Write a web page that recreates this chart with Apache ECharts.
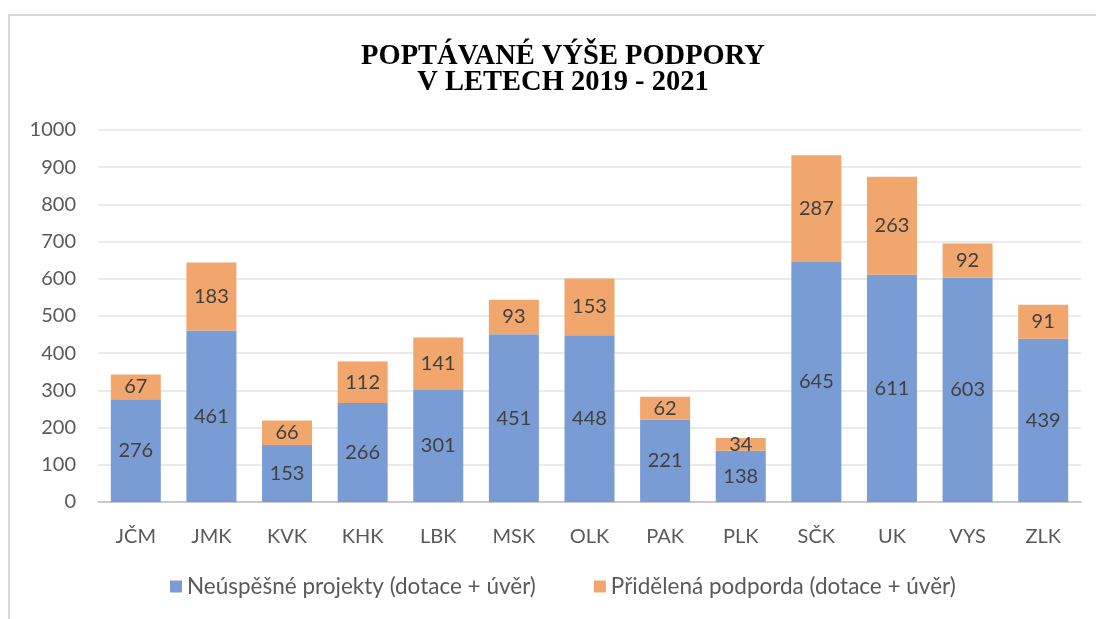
<!DOCTYPE html>
<html><head><meta charset="utf-8">
<script src="https://cdn.jsdelivr.net/npm/echarts@6/dist/echarts.min.js"></script>
<style>html,body{margin:0;padding:0;background:#fff}#c{width:1096px;height:619px}</style>
</head><body><div id="c"></div>
<script>
const categories = ['JČM','JMK','KVK','KHK','LBK','MSK','OLK','PAK','PLK','SČK','UK','VYS','ZLK'];
const neuspesne = [276,461,153,266,301,451,448,221,138,645,611,603,439];
const pridelena = [67,183,66,112,141,93,153,62,34,287,263,92,91];
const seriesNames = ['Neúspěšné projekty (dotace + úvěr)','Přidělená podporda (dotace + úvěr)'];
const yTicks = {min:0, max:1000, interval:100};

const FONT = 'Lato, sans-serif';
const chart = echarts.init(document.getElementById('c'));
const lbl = {show:true, position:'inside', color:'#404040', fontSize:20, fontFamily:FONT};
chart.setOption({
  animation:false,
  graphic:[{type:'rect', shape:{x:9,y:15,width:1200,height:700}, style:{fill:'none', stroke:'#d9d9d9', lineWidth:2}}],
  title:{text:'POPTÁVANÉ VÝŠE PODPORY\nV LETECH 2019 - 2021', left:558, textAlign:'center', top:38,
    textStyle:{fontFamily:'Liberation Serif', fontWeight:'bold', fontSize:28.5, lineHeight:26.5, color:'#000'}},
  legend:{bottom:16, left:165, padding:5, itemWidth:12, itemHeight:12, itemGap:58, icon:'rect',
    textStyle:{fontFamily:FONT, fontSize:22.5, color:'#595959'}},
  grid:{left:98, right:15, top:130, bottom:117, containLabel:false},
  xAxis:{type:'category', data:categories,
    axisLine:{lineStyle:{color:'#bfbfbf', width:1.5}}, axisTick:{show:false},
    axisLabel:{color:'#595959', fontSize:20, fontFamily:FONT, margin:25}},
  yAxis:{type:'value', min:yTicks.min, max:yTicks.max, interval:yTicks.interval,
    axisLine:{show:false}, axisTick:{show:false},
    splitLine:{lineStyle:{color:'#e3e3e3', width:1.5}},
    axisLabel:{color:'#595959', fontSize:20, fontFamily:FONT, margin:22, formatter:v=>String(v)}},
  series:[
    {name:seriesNames[0], type:'bar', stack:'a', data:neuspesne, barWidth:50, itemStyle:{color:'#7A9CD4'}, label:lbl},
    {name:seriesNames[1], type:'bar', stack:'a', data:pridelena, barWidth:50, itemStyle:{color:'#F1A66D'}, label:lbl}
  ]
});
</script></body></html>
